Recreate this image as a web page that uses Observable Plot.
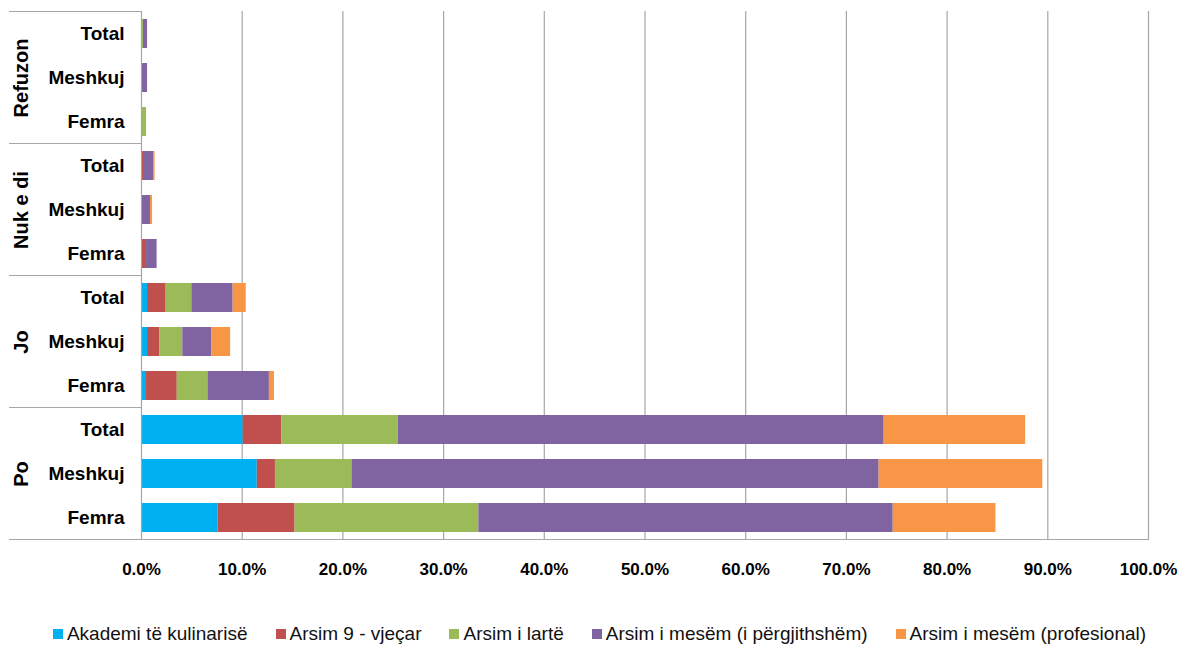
<!DOCTYPE html>
<html>
<head>
<meta charset="utf-8">
<script src="https://cdn.jsdelivr.net/npm/d3@7"></script>
<script src="https://cdn.jsdelivr.net/npm/@observablehq/plot@0.6"></script>
<style>
  html, body { margin: 0; padding: 0; background: #fff; }
  #chart { width: 1183px; }
  .legend {
    display: flex; justify-content: center; align-items: center;
    gap: 28px; margin-top: 24px; width: 1183px; padding-left: 16px; box-sizing: border-box;
    font-family: "Liberation Sans", Arial, sans-serif; font-size: 19px; line-height: 20px; color: #111;
  }
  .legend span.item { display: inline-flex; align-items: center; gap: 4px; white-space: nowrap; }
  .legend span.sw { width: 10px; height: 10px; display: inline-block; }
</style>
</head>
<body>
<div id="chart"></div>
<script>
// Answer groups (top to bottom) and the rows within each group
const groups = ["Refuzon", "Nuk e di", "Jo", "Po"];
const rows = ["Total", "Meshkuj", "Femra"];

// Education levels (stack order) and their colours
const levels = [
  "Akademi të kulinarisë",
  "Arsim 9 - vjeçar",
  "Arsim i lartë",
  "Arsim i mesëm (i përgjithshëm)",
  "Arsim i mesëm (profesional)"
];
const colors = ["#00B0F0", "#C0504D", "#9BBB59", "#8064A2", "#F79646"];

// Percentages per level, ordered group by group, rows Total, Meshkuj, Femra
const akademi     = [0, 0, 0,     0, 0, 0,        0.6, 0.6, 0.5,    10.1, 11.5, 7.6];
const arsim9      = [0, 0, 0,     0.2, 0, 0.5,    1.85, 1.2, 3.05,  3.85, 1.8, 7.65];
const larte       = [0.2, 0, 0.5, 0, 0, 0,        2.55, 2.3, 3.05,  11.55, 7.6, 18.25];
const mesem       = [0.4, 0.6, 0, 1.0, 0.9, 1.05, 4.1, 2.9, 6.1,    48.25, 52.35, 41.15];
const profesional = [0, 0, 0,     0.15, 0.2, 0,   1.3, 1.85, 0.5,   14.05, 16.25, 10.2];

// Axis ticks
const xTicks = [0, 10, 20, 30, 40, 50, 60, 70, 80, 90, 100];

const series = [akademi, arsim9, larte, mesem, profesional];
const keyOf = (g, r) => g + "|" + r;
const keys = groups.flatMap(g => rows.map(r => keyOf(g, r)));

const data = [];
levels.forEach((level, li) => {
  keys.forEach((k, i) => {
    data.push({key: k, level, value: series[li][i]});
  });
});

const Y_PAD = 0.34;
const GRID = "#a6a6a6";
const LABEL_COL_LEFT = 9;

// Horizontal rules framing each answer group in the label column
function groupBorders(index, scales, values, dimensions) {
  const y = scales.y;
  const step = y(keys[1]) - y(keys[0]);
  const half = step * Y_PAD / 2;
  const g = d3.create("svg:g").attr("stroke", GRID).attr("stroke-width", 1.2);
  const bounds = groups.map(grp => y(keyOf(grp, rows[0])) - half);
  bounds.push(y(keys[keys.length - 1]) + step - half);
  bounds.forEach((b, i) => {
    const last = i === bounds.length - 1;
    g.append("line")
      .attr("x1", LABEL_COL_LEFT)
      .attr("x2", last ? dimensions.width - dimensions.marginRight : dimensions.marginLeft)
      .attr("y1", b).attr("y2", b);
  });
  return g.node();
}

const plot = Plot.plot({
  width: 1183,
  height: 600,
  marginLeft: 141,
  marginRight: 35,
  marginTop: 11,
  marginBottom: 60,
  style: {fontFamily: "'Liberation Sans', Arial, sans-serif", color: "#000"},
  x: {domain: [0, 100]},
  y: {domain: keys, paddingInner: Y_PAD, paddingOuter: Y_PAD / 2},
  color: {domain: levels, range: colors},
  marks: [
    Plot.ruleX(xTicks.slice(1), {stroke: GRID, strokeWidth: 1.2}),
    Plot.barX(data, Plot.stackX({y: "key", x: "value", fill: "level", z: "level", order: levels})),
    Plot.ruleX([0], {stroke: GRID, strokeWidth: 1.2}),
    groupBorders,
    Plot.axisX({
      ticks: xTicks, tickSize: 0, tickPadding: 22,
      tickFormat: d => d.toFixed(1) + "%",
      fontSize: 17, fontWeight: "bold", label: null
    }),
    Plot.axisY({
      tickSize: 0, tickPadding: 17,
      tickFormat: d => d.split("|")[1],
      fontSize: 19, fontWeight: "bold", label: null
    }),
    Plot.text(groups, {
      y: g => keyOf(g, rows[1]), text: d => d,
      frameAnchor: "left", dx: -120, rotate: -90, textAnchor: "middle",
      fontSize: 20, fontWeight: "bold", fill: "#000"
    })
  ]
});

const chart = document.getElementById("chart");
chart.appendChild(plot);

// Legend below the chart
const legend = document.createElement("div");
legend.className = "legend";
levels.forEach((level, i) => {
  const item = document.createElement("span");
  item.className = "item";
  const sw = document.createElement("span");
  sw.className = "sw";
  sw.style.background = colors[i];
  const label = document.createElement("span");
  label.textContent = level;
  item.appendChild(sw);
  item.appendChild(label);
  legend.appendChild(item);
});
chart.appendChild(legend);
</script>
</body>
</html>
